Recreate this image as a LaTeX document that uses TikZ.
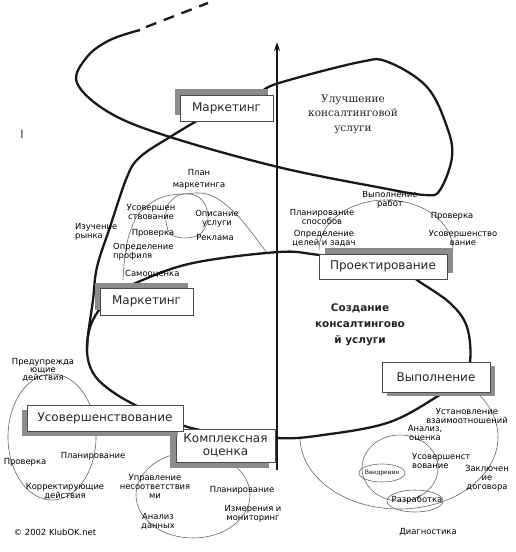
\documentclass[tikz,border=0pt]{standalone}
\usepackage{fontspec}
\setmainfont{DejaVu Sans}
\newfontfamily\serifface{DejaVu Serif}
\newfontfamily\barface{Liberation Sans}
\usetikzlibrary{shadows,arrows.meta}
\begin{document}
\begin{tikzpicture}[x=1pt,y=-1pt,
  thickline/.style={line width=2.3pt,black!90},
  thinline/.style={line width=0.6pt,black!60},
  lbl/.style={font=\fontsize{8.4}{9}\selectfont,align=center,inner sep=0pt,text=black},
  panel/.style={draw=black!70,line width=0.8pt,fill=white,inner sep=0pt,
    font=\fontsize{12}{13}\selectfont,align=center,text=black!85},
  sh/.style 2 args={drop shadow={shadow xshift=#1,shadow yshift=#2,fill=black!45,opacity=1}}
]
\useasboundingbox[fill=white] (0,0) rectangle (516,552);

% thin sub-cycles
\draw[thinline] plot[smooth,tension=0.6] coordinates {(123,280) (125,255) (130,232) (140,212) (160,198) (183,194) (210,195) (237,215) (267,253)};
\draw[thinline] plot[smooth cycle,tension=0.7] coordinates {(183,194) (200,198) (208,215) (203,231) (193,237) (177,237) (168,230) (166,212) (171,201)};
\draw[thinline] (319,250) arc[start angle=180,end angle=0,x radius=67pt,y radius=50pt];
\draw[thinline] (52,437) ellipse[x radius=44pt,y radius=63pt];
\draw[thinline] (193,495) ellipse[x radius=57pt,y radius=43pt];
\draw[thinline] (300,437) arc[start angle=180,end angle=400,x radius=99pt,y radius=72pt];
\draw[thinline] (400,468) ellipse[x radius=38pt,y radius=33pt];
\draw[thinline] (382,473) ellipse[x radius=23pt,y radius=9pt];
\draw[thinline] (415,501) ellipse[x radius=28pt,y radius=11pt];

% thick outlines
\draw[thickline] plot[smooth,tension=0.6] coordinates {(262,92) (279,83) (360,62) (388,62) (427,87) (447,127) (452,157) (440,190) (425,195) (377,187) (278,167) (170,137) (110,113) (77,83) (87,57) (110,40) (140,30)};
\draw[thickline,dash pattern=on 11pt off 8pt] (146,27) -- (208,3);
\draw[thickline] plot[smooth,tension=0.6] coordinates {(200,119) (170,137) (140,157) (127,177) (110,227) (97,267) (93,300) (88,335) (87,352)};
\draw[thickline] plot[smooth cycle,tension=0.6] coordinates {(138,282) (193,263) (279,252) (320,255) (395,263) (417,280) (450,303) (467,327) (470,362) (460,382) (443,393) (390,422) (323,435) (276,438) (200,430) (160,416) (135,405) (110,390) (93,373) (87,350) (92,322) (110,298)};

% axis
\draw[line width=2pt,black!90,-{Stealth[length=9pt,width=6pt]}] (277,470) -- (277,42);

% boxes
\node[panel,sh={-5pt}{6pt},minimum width=93pt,minimum height=26pt] (mark1) at (226.5,108) {Маркетинг};
\node[panel,sh={-5pt}{5pt},minimum width=93pt,minimum height=27pt] (mark2) at (146.5,301.5) {Маркетинг};
\node[panel,sh={6pt}{6pt},minimum width=128pt,minimum height=25pt] (proekt) at (383,266.5) {Проектирование};
\node[panel,sh={5pt}{-4pt},minimum width=108pt,minimum height=30pt] (vypol) at (436,377) {Выполнение};
\node[panel,sh={-6pt}{-6pt},minimum width=99pt,minimum height=33pt,font=\fontsize{12}{13.5}\selectfont] (kompl) at (225.5,445.5) {Комплексная\\оценка};
\node[panel,sh={-5pt}{-5pt},minimum width=156pt,minimum height=26pt] (usov) at (105,418) {Усовершенствование};

% main titles
\node[inner sep=0pt,align=center,font=\serifface\fontsize{10.5}{14.5}\selectfont,text=black!85] (ulu) at (353,114) {Улучшение\\консалтинговой\\услуги};
\node[inner sep=0pt,align=center,font=\bfseries\fontsize{10.5}{16}\selectfont,text=black!85] (soz) at (360,325) {Создание\\консалтингово\\й услуги};
\node[inner sep=0pt,font=\barface\fontsize{12}{12}\selectfont,text=black!80] (bar) at (22,134) {I};

% marketing labels
\node[lbl,font=\fontsize{8.4}{12}\selectfont] (mplan) at (199,179) {План\\маркетинга};
\node[lbl] (musov) at (151,212) {Усовершен\\ствование};
\node[lbl] (mopis) at (217,219) {Описание\\услуги};
\node[lbl,anchor=west,align=left] (mizu) at (75,232) {Изучение\\рынка};
\node[lbl] (mprov) at (153,233) {Проверка};
\node[lbl] (mrekl) at (215,237) {Реклама};
\node[lbl,anchor=west,align=left] (mopr) at (113,252) {Определение\\профиля};
\node[lbl,anchor=west] (msamo) at (125,274) {Самооценка};

% design labels
\node[lbl] (pvyp) at (390,200) {Выполнение\\работ};
\node[lbl] (ppl) at (322,217) {Планирование\\способов};
\node[lbl] (ppr) at (452,216) {Проверка};
\node[lbl] (popr) at (324,238) {Определение\\целей и задач};
\node[lbl] (pus) at (463,238) {Усовершенство\\вание};

% improvement labels
\node[lbl,font=\fontsize{8.4}{8}\selectfont] (upred) at (43,370) {Предупрежда\\ющие\\действия};
\node[lbl] (upr) at (25,462) {Проверка};
\node[lbl] (upl) at (93,456) {Планирование};
\node[lbl] (ukor) at (65,492) {Корректирующие\\действия};
\node[lbl] (copy) at (55,532) {© 2002 KlubOK.net};

% assessment labels
\node[lbl] (kupr) at (155,486) {Управление\\несоответствия\\ми};
\node[lbl] (kan) at (158,522) {Анализ\\данных};
\node[lbl] (kpl) at (242,490) {Планирование};
\node[lbl] (kizm) at (253,514) {Измерения и\\мониторинг};

% execution labels
\node[lbl] (vust) at (467,416) {Установление\\взаимоотношений};
\node[lbl] (van) at (425,434) {Анализ,\\оценка};
\node[lbl,anchor=west,align=left] (vus) at (412,461) {Усовершенст\\вование};
\node[lbl] (vzak) at (487,478) {Заключен\\ие\\договора};
\node[lbl,font=\serifface\fontsize{6}{6}\selectfont] (vvn) at (382,473) {Внедрение};
\node[lbl] (vraz) at (417,500) {Разработка};
\node[lbl] (vdiag) at (428,532) {Диагностика};
\end{tikzpicture}
\end{document}
